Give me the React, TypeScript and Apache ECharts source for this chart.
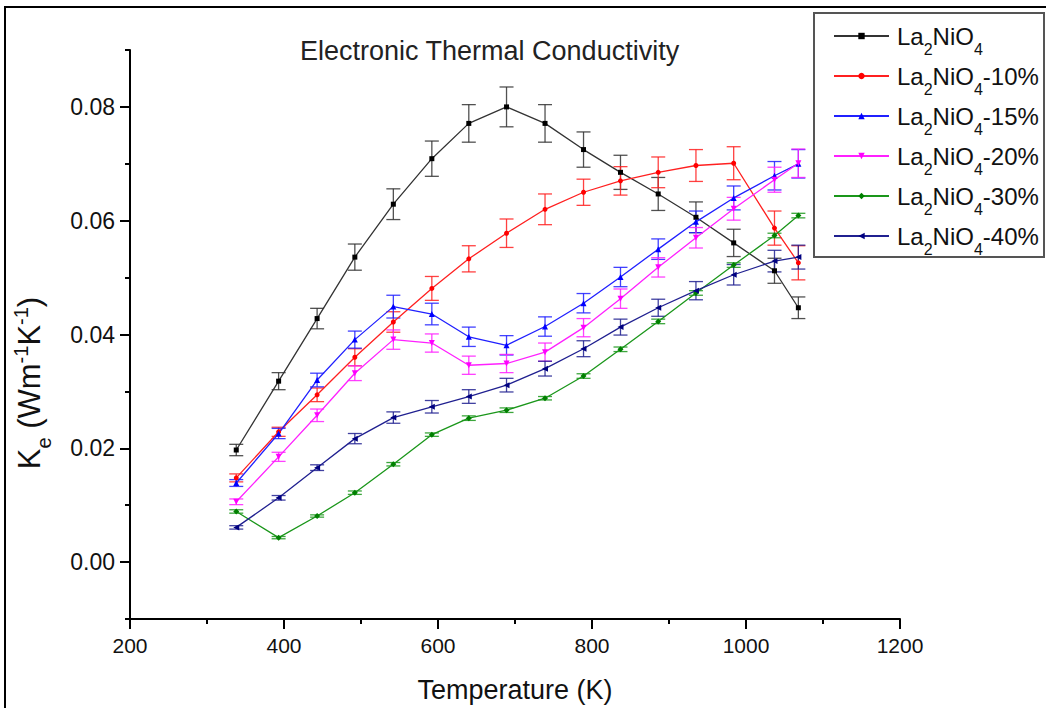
import React, { useEffect, useRef } from "react";
import * as echarts from "echarts";

const temps = [338, 393, 443, 492, 542, 592, 640, 689, 739, 789, 837, 886, 935, 984, 1037, 1068];

const seriesNames = ["La2NiO4", "La2NiO4-10%", "La2NiO4-15%", "La2NiO4-20%", "La2NiO4-30%", "La2NiO4-40%"];

const kePure = [0.0197, 0.0318, 0.0428, 0.0536, 0.0629, 0.0709, 0.0771, 0.0800, 0.0771, 0.0725, 0.0685, 0.0647, 0.0606, 0.0561, 0.0512, 0.0447];
const errPure = [0.0010, 0.0015, 0.0018, 0.0023, 0.0027, 0.0031, 0.0033, 0.0035, 0.0033, 0.0031, 0.0030, 0.0029, 0.0027, 0.0024, 0.0022, 0.0019];

const ke10 = [0.0148, 0.0229, 0.0294, 0.0360, 0.0422, 0.0481, 0.0533, 0.0578, 0.0620, 0.0650, 0.0670, 0.0685, 0.0697, 0.0701, 0.0587, 0.0526];
const err10 = [0.0007, 0.0008, 0.0012, 0.0015, 0.0018, 0.0021, 0.0023, 0.0025, 0.0027, 0.0023, 0.0025, 0.0027, 0.0028, 0.0029, 0.0030, 0.0030];

const ke15 = [0.0139, 0.0226, 0.0320, 0.0391, 0.0449, 0.0436, 0.0396, 0.0381, 0.0414, 0.0455, 0.0501, 0.0550, 0.0598, 0.0640, 0.0679, 0.0700];
const err15 = [0.0006, 0.0009, 0.0012, 0.0015, 0.0020, 0.0019, 0.0017, 0.0017, 0.0017, 0.0017, 0.0017, 0.0018, 0.0019, 0.0021, 0.0025, 0.0025];

const ke20 = [0.0106, 0.0185, 0.0258, 0.0332, 0.0391, 0.0385, 0.0346, 0.0349, 0.0369, 0.0412, 0.0463, 0.0518, 0.0570, 0.0621, 0.0672, 0.0701];
const err20 = [0.0005, 0.0008, 0.0011, 0.0013, 0.0017, 0.0016, 0.0016, 0.0016, 0.0016, 0.0016, 0.0017, 0.0017, 0.0018, 0.0020, 0.0022, 0.0025];

const ke30 = [0.0089, 0.0043, 0.0081, 0.0122, 0.0172, 0.0224, 0.0253, 0.0267, 0.0288, 0.0327, 0.0374, 0.0423, 0.0473, 0.0522, 0.0574, 0.0609];
const err30 = [0.0003, 0.0002, 0.0002, 0.0003, 0.0003, 0.0003, 0.0004, 0.0004, 0.0003, 0.0004, 0.0004, 0.0004, 0.0004, 0.0004, 0.0004, 0.0004];

const ke40 = [0.0061, 0.0113, 0.0166, 0.0217, 0.0254, 0.0273, 0.0291, 0.0311, 0.0340, 0.0375, 0.0413, 0.0447, 0.0477, 0.0505, 0.0529, 0.0536];
const err40 = [0.0003, 0.0004, 0.0005, 0.0009, 0.0010, 0.0011, 0.0012, 0.0012, 0.0013, 0.0014, 0.0014, 0.0015, 0.0016, 0.0018, 0.0019, 0.0021];

const xTicks = [200, 400, 600, 800, 1000, 1200];
const yMajorTicks = [0, 0.02, 0.04, 0.06, 0.08];

const FONT = "Liberation Sans, Arial, sans-serif";

const styles = [
  { color: "#000000", line: "#333333", symbol: "rect", size: 5 },
  { color: "#ff0000", line: "#ff2020", symbol: "circle", size: 5 },
  { color: "#0000ff", line: "#2020ff", symbol: "triangle", size: 6 },
  { color: "#ff00ff", line: "#ff20ff", symbol: "path://M0,0 L10,0 L5,10 Z", size: 6 },
  { color: "#008000", line: "#1a961a", symbol: "diamond", size: 6 },
  { color: "#000080", line: "#202090", symbol: "path://M0,5 L10,0 L10,10 Z", size: 6 },
];

const allValues = [kePure, ke10, ke15, ke20, ke30, ke40];
const allErrors = [errPure, err10, err15, err20, err30, err40];

export default function App() {
  const ref = useRef<HTMLDivElement>(null);

  useEffect(() => {
    if (!ref.current) return;
    const chart = echarts.init(ref.current, undefined, { renderer: "svg" });

    const lineSeries: any[] = seriesNames.map((name, i) => ({
      name,
      type: "line",
      data: temps.map((t, j) => [t, allValues[i][j]]),
      symbol: styles[i].symbol,
      symbolSize: styles[i].size,
      showSymbol: true,
      lineStyle: { color: styles[i].line, width: 1.3 },
      itemStyle: { color: styles[i].color },
      z: 3,
    }));

    const errSeries: any[] = seriesNames.map((name, i) => ({
      name: name + " error",
      type: "custom",
      data: temps.map((t, j) => [t, allValues[i][j], allErrors[i][j]]),
      encode: { x: 0, y: 1 },
      z: 2,
      silent: true,
      renderItem: (params: any, api: any) => {
        const x = api.value(0);
        const y = api.value(1);
        const e = api.value(2);
        const top = api.coord([x, y + e]);
        const bot = api.coord([x, y - e]);
        const hw = 7;
        const st = { stroke: styles[i].line, lineWidth: 1.3, opacity: 0.85 };
        return {
          type: "group",
          children: [
            { type: "line", shape: { x1: top[0], y1: top[1], x2: bot[0], y2: bot[1] }, style: st },
            { type: "line", shape: { x1: top[0] - hw, y1: top[1], x2: top[0] + hw, y2: top[1] }, style: st },
            { type: "line", shape: { x1: bot[0] - hw, y1: bot[1], x2: bot[0] + hw, y2: bot[1] }, style: st },
          ],
        };
      },
    }));

    const fmtName = (n: string) => n.replace("La2NiO4", "La{s|2}NiO{s|4}");

    chart.setOption({
      animation: false,
      backgroundColor: "#ffffff",
      title: {
        text: "Electronic Thermal Conductivity",
        left: 300,
        top: 37,
        padding: 0,
        textStyle: { fontSize: 27, fontWeight: "normal", color: "#222", fontFamily: FONT },
      },
      legend: {
        data: seriesNames,
        orient: "vertical",
        left: 833,
        top: 21,
        padding: 0,
        itemWidth: 55,
        itemHeight: 8,
        itemGap: 4,
        formatter: fmtName,
        textStyle: {
          fontSize: 24,
          fontFamily: FONT,
          color: "#111",
          lineHeight: 30,
          padding: [0, 0, 0, 3],
          rich: {
            s: { fontSize: 16, fontFamily: FONT, color: "#111", verticalAlign: "top", lineHeight: 16, padding: [20, 0, 0, 0] },
          },
        },
      },
      grid: { left: 130, right: 146, top: 50, bottom: 87, containLabel: false },
      xAxis: [
        {
          type: "value",
          min: 200,
          max: 1200,
          interval: 200,
          name: "Temperature (K)",
          nameLocation: "middle",
          nameGap: 57,
          nameTextStyle: { fontSize: 27, fontFamily: FONT, color: "#111" },
          axisLine: { show: true, onZero: false, lineStyle: { color: "#000", width: 2 } },
          axisTick: { show: true, inside: false, length: 10, lineStyle: { color: "#000", width: 2 } },
          minorTick: { show: true, splitNumber: 2, length: 5, lineStyle: { color: "#000", width: 2 } },
          axisLabel: {
            fontSize: 21,
            fontFamily: FONT,
            color: "#111",
            margin: 16,
            customValues: xTicks,
            formatter: (v: number) => String(v),
          },
          splitLine: { show: false },
          minorSplitLine: { show: false },
        },
      ],
      yAxis: [
        {
          type: "value",
          min: -0.01,
          max: 0.09,
          interval: 0.01,
          position: "left",
          axisLine: { show: true, onZero: false, lineStyle: { color: "#000", width: 2 } },
          axisTick: { show: true, inside: false, length: 10, customValues: yMajorTicks, lineStyle: { color: "#000", width: 2 } },
          axisLabel: {
            fontSize: 23,
            fontFamily: FONT,
            color: "#111",
            margin: 15,
            customValues: yMajorTicks,
            formatter: (v: number) => v.toFixed(2),
          },
          splitLine: { show: false },
        },
        {
          type: "value",
          min: -0.01,
          max: 0.09,
          interval: 0.01,
          position: "left",
          axisLine: { show: false },
          axisTick: { show: true, inside: false, length: 5, lineStyle: { color: "#000", width: 2 } },
          axisLabel: { show: false },
          splitLine: { show: false },
        },
      ],
      graphic: [
        {
          type: "rect",
          shape: { x: 5, y: 7, width: 1100, height: 800 },
          style: { fill: "none", stroke: "#000", lineWidth: 2 },
          silent: true,
          z: -10,
        },
        {
          type: "rect",
          shape: { x: 814, y: 13, width: 230, height: 244 },
          style: { fill: "#fff", stroke: "#555", lineWidth: 2 },
          silent: true,
          z: -5,
        },
        {
          type: "text",
          x: 29,
          y: 383,
          rotation: Math.PI / 2,
          style: {
            text: "K{s|e} (Wm{p|-1}K{p|-1})",
            fontSize: 31,
            fontFamily: FONT,
            fill: "#111",
            align: "center",
            verticalAlign: "middle",
            lineHeight: 36,
            rich: {
              s: { fontSize: 20, fontFamily: FONT, fill: "#111", verticalAlign: "top", lineHeight: 20, padding: [23, 0, 0, 0] },
              p: { fontSize: 20, fontFamily: FONT, fill: "#111", verticalAlign: "top", lineHeight: 20 },
            },
          },
        },
      ],
      series: [...errSeries, ...lineSeries],
    });

    return () => chart.dispose();
  }, []);

  return (
    <div
      ref={ref}
      style={{ position: "absolute", left: 0, top: 0, width: 1046, height: 708, background: "#fff" }}
    />
  );
}
